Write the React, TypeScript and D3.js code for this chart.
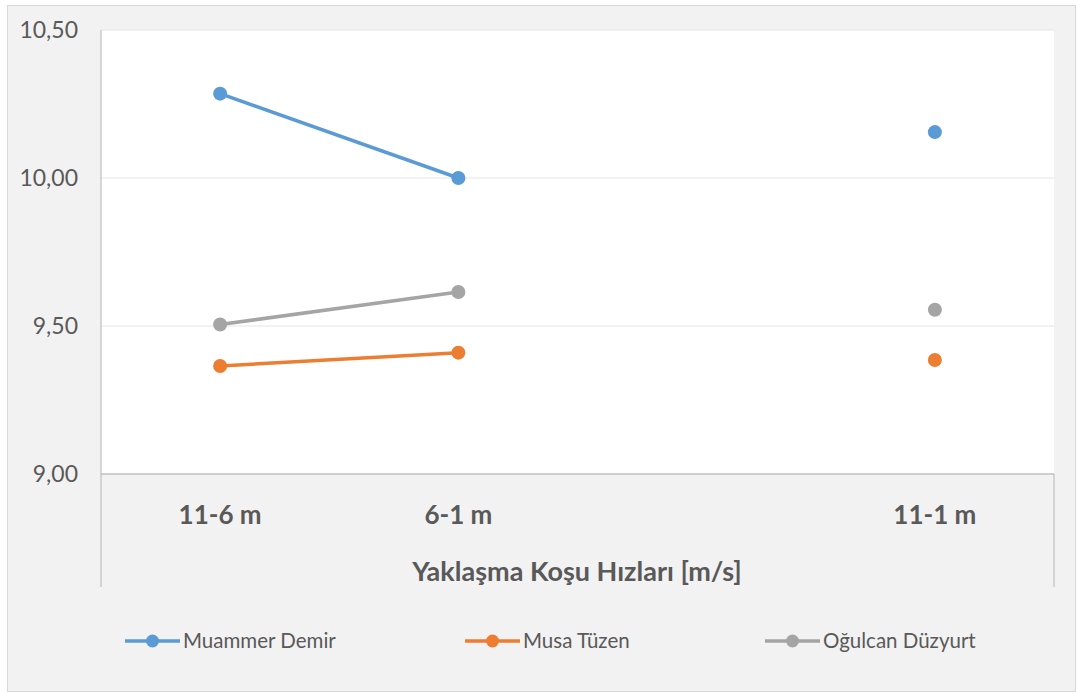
import React from "react";
import * as d3 from "d3";

const categories = ["11-6 m", "6-1 m", "", "11-1 m"];
const seriesNames = ["Muammer Demir", "Musa Tüzen", "Oğulcan Düzyurt"];
const muammer: (number | null)[] = [10.285, 10.0, null, 10.155];
const musa: (number | null)[] = [9.365, 9.41, null, 9.385];
const ogulcan: (number | null)[] = [9.505, 9.615, null, 9.555];
const yTicks = [9.0, 9.5, 10.0, 10.5];
const colors = ["#5b9bd5", "#ed7d31", "#a5a5a5"];
const axisTitle = "Yaklaşma Koşu Hızları [m/s]";

const W = 1077, H = 693;
const plot = { left: 101, right: 1054, top: 30, bottom: 474 };
const FONT = "Lato, 'Open Sans', sans-serif";

export default function App() {
  const x = d3.scaleBand().domain(categories.map((c, i) => String(i))).range([plot.left, plot.right]);
  const y = d3.scaleLinear().domain([9, 10.5]).range([plot.bottom, plot.top]);
  const cx = (i: number) => (x(String(i)) as number) + x.bandwidth() / 2;
  const all = [muammer, musa, ogulcan];
  const line = d3
    .line<number | null>()
    .defined((d) => d !== null)
    .x((_, i) => cx(i))
    .y((d) => y(d as number));
  const fmt = (v: number) => v.toFixed(2).replace(".", ",");
  const legendX = [125, 465, 765];

  return (
    <svg width={W} height={H} style={{ position: "absolute", left: 0, top: 0 }}>
      <rect x={7.5} y={5.5} width={W - 9} height={H - 7} fill="#f2f2f2" stroke="#d9d9d9" />
      <rect x={plot.left} y={plot.top} width={plot.right - plot.left} height={plot.bottom - plot.top} fill="#ffffff" />
      {yTicks.map((t) => (
        <g key={t}>
          <line x1={plot.left} x2={plot.right} y1={y(t)} y2={y(t)} stroke={t === 9 ? "#bfbfbf" : "#e6e6e6"} strokeWidth={t === 9 ? 1.5 : 1} />
          <text x={78} y={y(t)} dy="0.35em" textAnchor="end" fontFamily={FONT} fontSize={23} fill="#595959">
            {fmt(t)}
          </text>
        </g>
      ))}
      <line x1={plot.left} x2={plot.left} y1={plot.top} y2={587} stroke="#bfbfbf" strokeWidth={1.2} />
      <line x1={plot.right} x2={plot.right} y1={plot.bottom} y2={587} stroke="#bfbfbf" strokeWidth={1.2} />
      {categories.map((c, i) => (
        <text key={i} x={cx(i)} y={515} dy="0.35em" textAnchor="middle" fontFamily={FONT} fontWeight="bold" fontSize={26} fill="#595959">
          {c}
        </text>
      ))}
      <text x={577} y={572} dy="0.35em" textAnchor="middle" fontFamily={FONT} fontWeight="bold" fontSize={27} fill="#595959">
        {axisTitle}
      </text>
      {all.map((s, k) => (
        <g key={k}>
          <path d={line(s) || ""} fill="none" stroke={colors[k]} strokeWidth={3.5} />
          {s.map((v, i) =>
            v === null ? null : <circle key={i} cx={cx(i)} cy={y(v)} r={7} fill={colors[k]} />
          )}
        </g>
      ))}
      {seriesNames.map((n, k) => (
        <g key={n}>
          <line x1={legendX[k]} x2={legendX[k] + 55} y1={641} y2={641} stroke={colors[k]} strokeWidth={3.5} />
          <circle cx={legendX[k] + 27.5} cy={641} r={6.5} fill={colors[k]} />
          <text x={legendX[k] + 58} y={641} dy="0.35em" fontFamily={FONT} fontSize={20.5} fill="#595959">
            {n}
          </text>
        </g>
      ))}
    </svg>
  );
}
